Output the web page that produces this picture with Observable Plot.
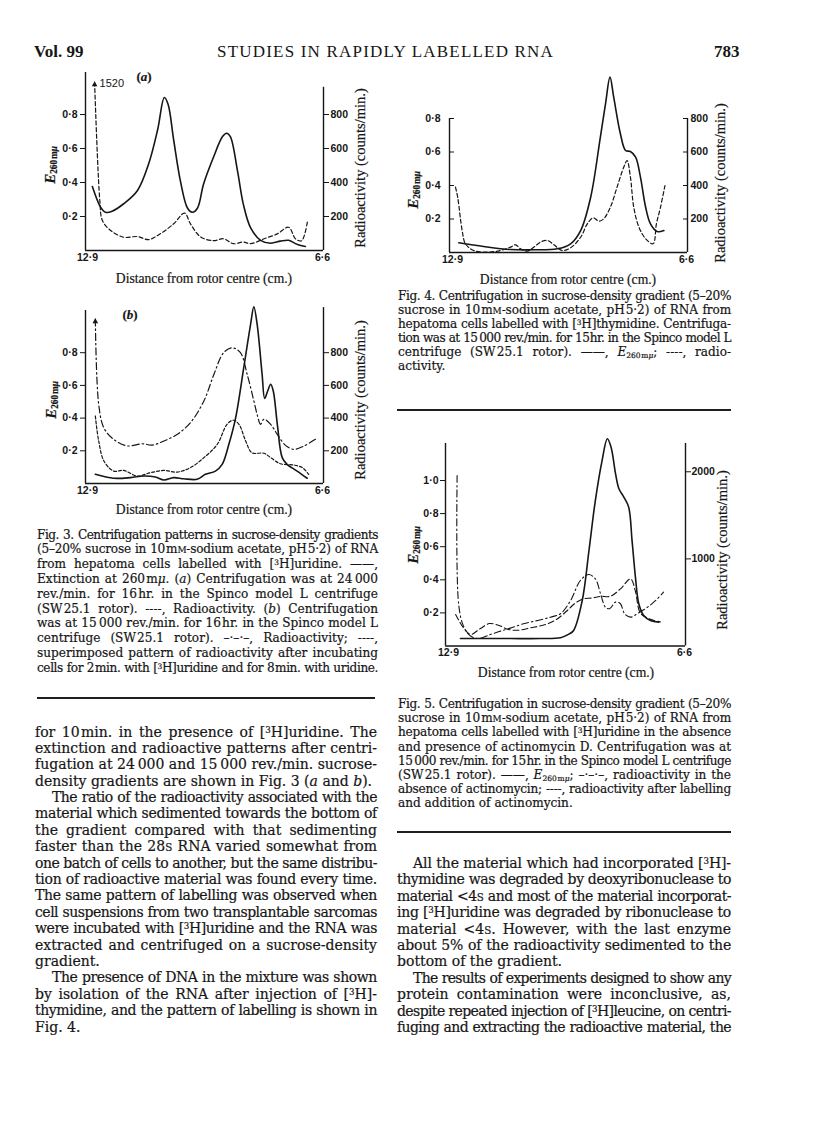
<!DOCTYPE html>
<html><head><meta charset="utf-8">
<script src="https://cdn.jsdelivr.net/npm/d3@7"></script>
<script src="https://cdn.jsdelivr.net/npm/@observablehq/plot@0.6"></script>
<style>
body{margin:0;background:#fff;}
#page{position:relative;width:816px;height:1148px;overflow:hidden;background:#fff;color:#161616;font-family:"Liberation Serif","Times New Roman",serif;}
.abs{position:absolute;white-space:nowrap;}
.ln{position:absolute;text-align:justify;text-align-last:justify;white-space:normal;font-family:"DejaVu Serif",serif;-webkit-text-stroke:0.2px #161616;}
.ln.last{text-align-last:left;}
sup{font-size:0.62em;vertical-align:0.45em;line-height:0;}
sub{font-size:0.62em;vertical-align:-0.3em;line-height:0;}
.sc{font-size:0.74em;}
.rule{position:absolute;height:0;border-top:2px solid #1e1e1e;}
.rot{position:absolute;white-space:nowrap;transform:translate(-50%,-50%) rotate(-90deg);-webkit-text-stroke:0.2px #161616;}
.ctr{position:absolute;white-space:nowrap;transform:translate(-50%,-50%);-webkit-text-stroke:0.2px #161616;}
</style></head>
<body><div id="page"></div>
<script>
// ---------------- DATA (distance from rotor centre, cm; E260 or counts/min) ----------------
// Fig. 3(a)
const fig3aExtX = [12.77,12.55,12.42,12.24,11.93,11.56,11.26,11.02,10.84,10.74,10.59,10.41,10.22,10.09,9.95,9.79,9.52,9.28,9.17,9.07,8.88,8.72,8.53,8.26,7.99,7.73,7.51,7.27,7.06];
const fig3aExtE = [0.376,0.255,0.225,0.231,0.275,0.353,0.51,0.71,0.90,0.86,0.65,0.41,0.25,0.225,0.25,0.39,0.55,0.67,0.69,0.67,0.47,0.27,0.135,0.06,0.043,0.055,0.06,0.035,0.024];
const fig3aRadX = [12.71,12.57,12.50,12.28,11.93,11.56,11.26,10.94,10.59,10.30,10.14,9.87,9.52,9.25,8.99,8.72,8.53,8.18,7.81,7.51,7.32,7.16,7.00];
const fig3aRadCpm = [990,294,176,118,78,82,64,100,157,220,157,80,58,69,40,50,40,68,98,137,68,57,176];
const fig3aOffScale = ["1520"];
// Fig. 3(b)
const fig3bExtX = [12.69,12.20,11.75,11.39,11.08,10.85,10.59,10.32,9.96,9.74,9.47,9.29,9.11,8.93,8.71,8.53,8.44,8.35,8.22,8.15,8.07,7.99,7.92,7.81,7.68,7.55,7.28,7.01];
const fig3bExtE = [0.056,0.032,0.036,0.046,0.04,0.021,0.036,0.029,0.026,0.056,0.076,0.117,0.24,0.40,0.71,0.97,1.08,0.97,0.67,0.52,0.566,0.607,0.566,0.36,0.158,0.117,0.076,0.032];
const fig3bRadX = [12.69,12.60,12.46,12.20,11.84,11.43,11.17,10.85,10.50,10.14,9.78,9.51,9.25,9.02,8.80,8.62,8.44,8.35,8.26,8.17,7.99,7.81,7.59,7.37,7.10,6.79];
const fig3bRadCpm = [1006,484,340,270,230,243,235,260,300,372,505,668,800,830,800,668,505,420,362,393,362,300,233,209,229,270];
const fig3bPulseX = [12.69,12.60,12.46,12.20,11.93,11.57,11.21,10.85,10.50,10.14,9.78,9.42,9.16,8.99,8.84,8.66,8.49,8.17,7.99,7.73,7.37,7.14,6.97];
const fig3bPulseCpm = [413,260,138,76,80,46,66,80,70,97,158,240,362,387,362,260,188,185,158,121,113,97,56];
// Fig. 4
const fig4ExtX = [12.73,12.06,11.34,10.71,10.08,9.72,9.45,9.18,8.92,8.78,8.66,8.56,8.38,8.24,8.11,7.97,7.84,7.70,7.57,7.39,7.21];
const fig4ExtE = [0.058,0.036,0.018,0.016,0.022,0.052,0.131,0.33,0.688,0.888,1.047,0.927,0.709,0.609,0.603,0.569,0.45,0.27,0.171,0.125,0.131];
const fig4RadX = [12.82,12.76,12.64,12.55,12.33,11.97,11.61,11.34,11.20,11.07,10.89,10.71,10.53,10.35,10.17,9.95,9.72,9.45,9.27,9.11,8.96,8.83,8.65,8.47,8.29,8.20,8.11,8.02,7.88,7.70,7.50,7.41,7.30,7.18];
const fig4RadCpm = [390,330,131,52,12,2,12,32,46,22,8,32,62,72,46,12,28,91,171,207,187,201,270,390,509,549,450,270,151,82,52,171,270,400];
// Fig. 5
const fig5ExtX = [12.58,12.05,11.25,10.44,9.91,9.70,9.56,9.33,9.15,8.98,8.80,8.66,8.56,8.44,8.35,8.22,8.09,8.00,7.91,7.82,7.69,7.51,7.29];
const fig5ExtE = [0.045,0.045,0.045,0.045,0.05,0.07,0.094,0.275,0.577,0.879,1.12,1.252,1.201,1.04,0.95,0.90,0.839,0.637,0.416,0.255,0.184,0.154,0.144];
const fig5NoActX = [12.67,12.63,12.50,12.31,12.10,11.78,11.51,11.25,10.90,10.52,10.18,9.91,9.64,9.38,9.16,8.98,8.84,8.71,8.60,8.44,8.31,8.20,8.04,7.86,7.59,7.37,7.16];
const fig5NoActCpm = [1957,485,228,114,86,133,171,205,255,293,331,371,523,752,821,771,599,445,428,504,485,371,331,371,445,523,618];
const fig5ActX = [12.71,12.50,12.31,12.05,11.81,11.57,11.30,11.03,10.71,10.31,10.02,9.75,9.51,9.30,9.06,8.84,8.58,8.31,8.04,7.91,7.78,7.56,7.24];
const fig5ActCpm = [361,209,133,200,258,238,190,181,209,247,304,399,494,542,551,570,570,656,770,627,380,314,276];
// Axis ticks
const eTicks4 = [0.2,0.4,0.6,0.8];
const eTicks5 = [0.2,0.4,0.6,0.8,1.0];
const cpmTicks4 = [200,400,600,800];
const cpmTicks5 = [1000,2000];
const distTicks = [12.9,6.6];

// ---------------- RENDER ----------------
const page = document.getElementById("page");
const ink = "#161616";
const fmtDot = d => d3.format(".1f")(d).replace(".", "\u00b7");
const rows = (xs, ys) => xs.map((x, i) => ({x, v: ys[i]}));

function buildChart(c) {
  const ml = c.axisL - c.left, mr = c.left + c.width - c.axisR, mb = c.top + c.height - c.base;
  const yb = c.base - c.top;
  const yr = d => d.v / c.cpmPerE;
  const marks = [
    Plot.ruleY([0], {stroke: ink, strokeWidth: 1.4}),
    Plot.ruleX([12.9], {y1: 0, y2: c.leftTop, dx: c.axisL - c.x0, stroke: ink, strokeWidth: 1.4}),
    Plot.ruleX([6.6], {y1: 0, y2: c.rightTop, dx: c.axisR - c.x1, stroke: ink, strokeWidth: 1.4}),
    Plot.axisY(c.eTicks, {anchor: "left", label: null, tickSize: c.tickL, tickPadding: c.padL, tickFormat: fmtDot}),
    Plot.axisY(c.cpmTicks.map(t => t / c.cpmPerE), {anchor: "right", label: null, tickSize: c.tickR, tickPadding: c.padR, tickFormat: e => String(Math.round(e * c.cpmPerE))}),
    Plot.axisX(distTicks, {anchor: "bottom", label: null, tickSize: 0, tickPadding: 3, tickFormat: fmtDot})
  ];
  for (const s of c.series) {
    marks.push(Plot.line(s.data, {x: "x", y: s.radio ? yr : "v", curve: "catmull-rom", stroke: ink, strokeWidth: s.w, strokeDasharray: s.dash}));
  }
  if (c.arrow) {
    const a = [c.arrow.data[0]];
    marks.push(Plot.dot(a, {x: "x", y: yr, symbol: "triangle", r: 2.1, fill: ink, stroke: null, dy: 2.5}));
    if (c.arrow.label) marks.push(Plot.text(a, {x: "x", y: yr, text: () => c.arrow.label, dx: 5, dy: 1, textAnchor: "start", fontWeight: "normal", fontSize: 11}));
  }
  const svg = Plot.plot({
    width: c.width, height: c.height,
    marginLeft: ml, marginRight: mr, marginTop: 4, marginBottom: mb,
    x: {domain: [12.9, 6.6], range: [c.x0 - c.left, c.x1 - c.left], label: null},
    y: {domain: [0, 1], range: [yb, yb - c.px1], label: null},
    style: {fontFamily: "'Liberation Sans', Arial, sans-serif", fontSize: "10.5px", fontWeight: "bold", color: ink, background: "transparent", overflow: "visible"},
    marks
  });
  svg.style.position = "absolute";
  svg.style.left = c.left + "px";
  svg.style.top = c.top + "px";
  page.appendChild(svg);
}

const fig3aRad = rows(fig3aRadX, fig3aRadCpm);
const fig3bRad = rows(fig3bRadX, fig3bRadCpm);

buildChart({left: 30, top: 60, width: 350, height: 220, axisL: 85, axisR: 323, base: 250, px1: 170, x0: 87, x1: 322,
  leftTop: 1.047, rightTop: 0.96, eTicks: eTicks4, cpmTicks: cpmTicks4, cpmPerE: 1000, tickL: 5, padL: 3, tickR: 5, padR: 2,
  series: [
    {data: rows(fig3aExtX, fig3aExtE), w: 1.6},
    {data: fig3aRad, radio: true, w: 1.2, dash: "4,2.5"}
  ],
  arrow: {data: fig3aRad, label: fig3aOffScale[0]}
});

buildChart({left: 30, top: 296, width: 350, height: 212, axisL: 85, axisR: 323, base: 483, px1: 163.5, x0: 87, x1: 322,
  leftTop: 1.058, rightTop: 1.076, eTicks: eTicks4, cpmTicks: cpmTicks4, cpmPerE: 1000, tickL: 5, padL: 3, tickR: 5, padR: 2,
  series: [
    {data: rows(fig3bExtX, fig3bExtE), w: 1.6},
    {data: fig3bRad, radio: true, w: 1.2, dash: "7,3,1.5,3"},
    {data: rows(fig3bPulseX, fig3bPulseCpm), radio: true, w: 1.2, dash: "3,2"}
  ],
  arrow: {data: fig3bRad}
});

buildChart({left: 397, top: 70, width: 340, height: 205, axisL: 449, axisR: 687, base: 252, px1: 167.5, x0: 452, x1: 686,
  leftTop: 0.8, rightTop: 0.8, eTicks: eTicks4, cpmTicks: cpmTicks4, cpmPerE: 1000, tickL: -5, padL: 14, tickR: -5, padR: 8,
  series: [
    {data: rows(fig4ExtX, fig4ExtE), w: 1.6},
    {data: rows(fig4RadX, fig4RadCpm), radio: true, w: 1.2, dash: "4,2.5"}
  ]
});

buildChart({left: 397, top: 425, width: 340, height: 245, axisL: 445, axisR: 685, base: 645.5, px1: 165.5, x0: 448, x1: 684,
  leftTop: 1.224, rightTop: 1.224, eTicks: eTicks5, cpmTicks: cpmTicks5, cpmPerE: 1900, tickL: 5, padL: 2, tickR: 5, padR: 1,
  series: [
    {data: rows(fig5ExtX, fig5ExtE), w: 1.6},
    {data: rows(fig5NoActX, fig5NoActCpm), radio: true, w: 1.1, dash: "7,3,1.5,3"},
    {data: rows(fig5ActX, fig5ActCpm), radio: true, w: 1.1, dash: "6,3"}
  ]
});

// ---------------- TEXT ----------------
function el(cls, html, style) {
  const d = document.createElement("div");
  d.className = cls; d.innerHTML = html;
  Object.assign(d.style, style);
  page.appendChild(d);
  return d;
}
const E260 = '<i>E</i><sub>260&#8202;m<i>μ</i></sub>';
const H3 = '[<sup>3</sup>H]';
const mM = '10&#8202;m<span class="sc">M</span>';

// header
el("abs", "Vol. 99", {left: "34px", top: "42px", fontSize: "17px", lineHeight: "20px", fontWeight: "bold"});
el("abs", "STUDIES IN RAPIDLY LABELLED RNA", {left: "217px", top: "42px", fontSize: "17px", lineHeight: "20px", letterSpacing: "1.2px"});
el("abs", "783", {left: "714px", top: "42px", fontSize: "17px", lineHeight: "20px", fontWeight: "bold"});

// axis labels
const eLab = (x, y) => el("rot", E260, {left: x + "px", top: y + "px", fontSize: "15px", fontWeight: "bold"});
const rLab = (x, y) => el("rot", "Radioactivity (counts/min.)", {left: x + "px", top: y + "px", fontSize: "14.5px"});
const dLab = (x, y) => el("ctr", "Distance from rotor centre (cm.)", {left: x + "px", top: y + "px", fontSize: "13.6px"});
eLab(50, 165); rLab(360, 168); dLab(204, 279);
eLab(51, 400); rLab(360, 400); dLab(204, 510);
eLab(413, 190); rLab(720, 183); dLab(568, 280);
eLab(413, 545); rLab(722, 550); dLab(566, 673);
el("ctr", "(<i>a</i>)", {left: "144px", top: "77px", fontSize: "13px", fontWeight: "bold"});
el("ctr", "(<i>b</i>)", {left: "130px", top: "315px", fontSize: "13px", fontWeight: "bold"});

// justified lines
function block(lines, o) {
  lines.forEach((ln, i) => {
    const obj = typeof ln === "string" ? {t: ln} : ln;
    const ind = obj.i ? o.indent : 0;
    const d = el("ln" + (obj.l ? " last" : ""), obj.t, {
      left: (o.x + ind) + "px", width: (o.w - ind) + "px",
      top: (o.y0 + o.dy * i - o.lh / 2) + "px", fontSize: o.fs + "px", lineHeight: o.lh + "px"
    });
    let ls = 0;
    while (d.offsetHeight > o.lh * 1.5 && ls > -2) { ls -= 0.1; d.style.letterSpacing = ls.toFixed(2) + "px"; }
  });
}

block([
  "Fig. 3. Centrifugation patterns in sucrose-density gradients",
  `(5–20% sucrose in ${mM}-sodium acetate, pH&#8202;5·2) of RNA`,
  `from hepatoma cells labelled with ${H3}uridine. ——,`,
  "Extinction at 260&#8202;m<i>μ</i>. (<i>a</i>) Centrifugation was at 24&#8201;000",
  "rev./min. for 16&#8202;hr. in the Spinco model L centrifuge",
  "(SW&#8202;25.1 rotor). ----, Radioactivity. (<i>b</i>) Centrifugation",
  "was at 15&#8201;000 rev./min. for 16&#8202;hr. in the Spinco model L",
  "centrifuge (SW&#8202;25.1 rotor). –·–·–, Radioactivity; ----,",
  "superimposed pattern of radioactivity after incubating",
  `cells for 2&#8202;min. with ${H3}uridine and for 8&#8202;min. with uridine.`
], {x: 37, w: 341, y0: 535, dy: 14.8, fs: 12.1, lh: 15});

block([
  "Fig. 4. Centrifugation in sucrose-density gradient (5–20%",
  `sucrose in ${mM}-sodium acetate, pH&#8202;5·2) of RNA from`,
  `hepatoma cells labelled with ${H3}thymidine. Centrifuga-`,
  "tion was at 15&#8201;000 rev./min. for 15&#8202;hr. in the Spinco model L",
  `centrifuge (SW&#8202;25.1 rotor). ——, ${E260}; ----, radio-`,
  {t: "activity.", l: 1}
], {x: 398, w: 333, y0: 296, dy: 14, fs: 12.1, lh: 14});

block([
  "Fig. 5. Centrifugation in sucrose-density gradient (5–20%",
  `sucrose in ${mM}-sodium acetate, pH&#8202;5·2) of RNA from`,
  `hepatoma cells labelled with ${H3}uridine in the absence`,
  "and presence of actinomycin D. Centrifugation was at",
  "15&#8201;000 rev./min. for 15&#8202;hr. in the Spinco model L centrifuge",
  `(SW&#8202;25.1 rotor). ——, ${E260}; –·–·–, radioactivity in the`,
  "absence of actinomycin; ----, radioactivity after labelling",
  {t: "and addition of actinomycin.", l: 1}
], {x: 398, w: 333, y0: 704, dy: 14.2, fs: 12.1, lh: 14});

block([
  `for 10&#8202;min. in the presence of ${H3}uridine. The`,
  "extinction and radioactive patterns after centri-",
  "fugation at 24&#8201;000 and 15&#8201;000 rev./min. sucrose-",
  {t: "density gradients are shown in Fig. 3 (<i>a</i> and <i>b</i>).", l: 1},
  {t: "The ratio of the radioactivity associated with the", i: 1},
  "material which sedimented towards the bottom of",
  "the gradient compared with that sedimenting",
  "faster than the 28<span class=\"sc\">S</span> RNA varied somewhat from",
  "one batch of cells to another, but the same distribu-",
  "tion of radioactive material was found every time.",
  "The same pattern of labelling was observed when",
  "cell suspensions from two transplantable sarcomas",
  `were incubated with ${H3}uridine and the RNA was`,
  "extracted and centrifuged on a sucrose-density",
  {t: "gradient.", l: 1},
  {t: "The presence of DNA in the mixture was shown", i: 1},
  `by isolation of the RNA after injection of ${H3}-`,
  "thymidine, and the pattern of labelling is shown in",
  {t: "Fig. 4.", l: 1}
], {x: 35, w: 342, y0: 731.5, dy: 16.39, fs: 14, lh: 16, indent: 17});

block([
  {t: `All the material which had incorporated ${H3}-`, i: 1},
  "thymidine was degraded by deoxyribonuclease to",
  "material &lt;4<span class=\"sc\">S</span> and most of the material incorporat-",
  `ing ${H3}uridine was degraded by ribonuclease to`,
  "material &lt;4<span class=\"sc\">S</span>. However, with the last enzyme",
  "about 5% of the radioactivity sedimented to the",
  {t: "bottom of the gradient.", l: 1},
  {t: "The results of experiments designed to show any", i: 1},
  "protein contamination were inconclusive, as,",
  `despite repeated injection of ${H3}leucine, on centri-`,
  "fuging and extracting the radioactive material, the"
], {x: 397, w: 334, y0: 863, dy: 16.39, fs: 14, lh: 16, indent: 16});

// rules
el("rule", "", {left: "37px", width: "338px", top: "697px"});
el("rule", "", {left: "397px", width: "334px", top: "409px"});
el("rule", "", {left: "397px", width: "334px", top: "831px"});
</script>
</body></html>
